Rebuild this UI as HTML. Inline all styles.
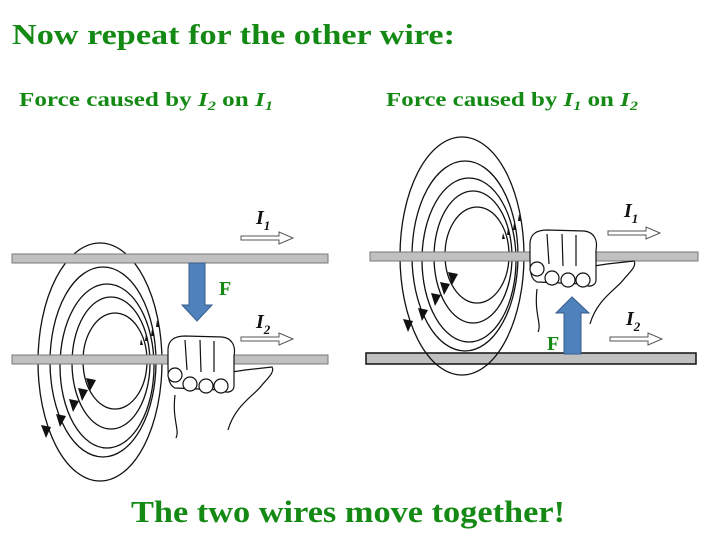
<!DOCTYPE html>
<html><head><style>body{margin:0;background:#fff}svg{display:block}</style></head><body>
<svg width="720" height="540" viewBox="0 0 720 540" xmlns="http://www.w3.org/2000/svg" font-family="Liberation Serif, serif">
<defs>
<g id="rings" fill="none" stroke="#111" stroke-width="1.3">
<ellipse cx="115" cy="361" rx="32" ry="48"/>
<ellipse cx="111" cy="363" rx="39" ry="66"/>
<ellipse cx="107" cy="366" rx="47" ry="82"/>
<ellipse cx="103" cy="362" rx="53" ry="95"/>
<ellipse cx="100" cy="362" rx="62" ry="119"/>
<g fill="#111" stroke="none">
<polygon points="86,378 96,380 90,391"/>
<polygon points="78,388 88,390 82,401"/>
<polygon points="69,399 79,401 73,412"/>
<polygon points="56,414 66,416 60,427"/>
<polygon points="41,425 51,427 46,438"/>
<polygon points="140,345 143,345 141,339"/>
<polygon points="145,341 148,341 146,334"/>
<polygon points="151,336 154,336 152,329"/>
<polygon points="156,327 159,327 157,320"/>
</g>
</g>
<g id="hand" fill="#fff" stroke="#111" stroke-width="1.2">
<path d="M175,395 C172,420 180,430 176,438 M228,430 C235,405 255,395 262,385 C268,378 275,372 272,367 L245,370 L232,372"/>
<path d="M168,350 C168,340 175,336 185,336 L222,337 C232,338 236,346 234,356 L234,386 C234,392 226,394 222,390 L175,388 C168,385 168,375 168,365 Z"/>
<circle cx="175" cy="375" r="7"/><circle cx="190" cy="384" r="7"/><circle cx="206" cy="386" r="7"/><circle cx="221" cy="386" r="7"/>
<path d="M185,340 L187,370 M200,340 L201,372 M214,341 L214,372" fill="none"/>
</g>
<g id="cur" fill="#fff" stroke="#555" stroke-width="1"><path d="M0,-2 L38,-2 L38,-6 L52,0 L38,6 L38,2 L0,2 Z"/></g>
</defs>
<g fill="#148a14" font-weight="bold">
<text x="12" y="44" font-size="28" textLength="443" lengthAdjust="spacingAndGlyphs">Now repeat for the other wire:</text>
<text x="19" y="106" font-size="20" textLength="254" lengthAdjust="spacingAndGlyphs">Force caused by <tspan font-style="italic">I</tspan><tspan font-size="13" font-style="italic" dy="4">2</tspan><tspan dy="-4"> on </tspan><tspan font-style="italic">I</tspan><tspan font-size="13" font-style="italic" dy="4">1</tspan></text>
<text x="386" y="106" font-size="20" textLength="252" lengthAdjust="spacingAndGlyphs">Force caused by <tspan font-style="italic">I</tspan><tspan font-size="13" font-style="italic" dy="4">1</tspan><tspan dy="-4"> on </tspan><tspan font-style="italic">I</tspan><tspan font-size="13" font-style="italic" dy="4">2</tspan></text>
<text x="348" y="522" font-size="31" text-anchor="middle" textLength="434" lengthAdjust="spacingAndGlyphs">The two wires move together!</text>
<text x="219" y="295" font-size="20">F</text>
<text x="547" y="350" font-size="20">F</text>
</g>
<!-- left panel -->
<use href="#rings"/>
<rect x="12" y="254" width="316" height="9" fill="#c0c0c0" stroke="#777"/>
<rect x="12" y="355" width="316" height="9" fill="#c0c0c0" stroke="#777"/>
<use href="#hand"/>
<polygon points="189,263 205,263 205,305 212,305 197,321 182,305 189,305" fill="#4f81bd" stroke="#385d8a"/>
<text x="256" y="224" font-size="20" font-weight="bold" font-style="italic" fill="#111">I<tspan font-size="13" dy="6">1</tspan></text>
<use href="#cur" x="241" y="238"/>
<text x="256" y="328" font-size="20" font-weight="bold" font-style="italic" fill="#111">I<tspan font-size="13" dy="6">2</tspan></text>
<use href="#cur" x="241" y="339"/>
<!-- right panel -->
<rect x="366" y="353" width="330" height="11" fill="#c0c0c0" stroke="#111" stroke-width="1.5"/>
<g transform="translate(362,-106)"><use href="#rings"/></g>
<rect x="370" y="252" width="328" height="9" fill="#c0c0c0" stroke="#777"/>
<g transform="translate(362,-106)"><use href="#hand"/></g>
<polygon points="564,354 581,354 581,313 589,313 572,297 556,313 564,313" fill="#4f81bd" stroke="#385d8a"/>
<text x="624" y="217" font-size="20" font-weight="bold" font-style="italic" fill="#111">I<tspan font-size="13" dy="6">1</tspan></text>
<use href="#cur" x="608" y="233"/>
<text x="626" y="325" font-size="20" font-weight="bold" font-style="italic" fill="#111">I<tspan font-size="13" dy="6">2</tspan></text>
<use href="#cur" x="610" y="339"/>
</svg>
</body></html>
